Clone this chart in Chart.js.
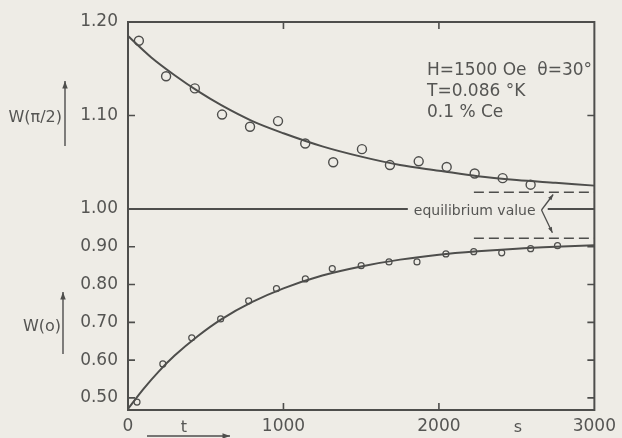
<!DOCTYPE html>
<html><head><meta charset="utf-8">
<script src="https://cdn.jsdelivr.net/npm/chart.js@4.4.1/dist/chart.umd.min.js"></script>
<style>html,body{margin:0;padding:0;background:#eeece6;}#wrap{width:622px;height:438px;}</style>
</head><body><div id="wrap"><canvas id="c" width="622" height="438"></canvas></div>
<script>
// ---- data ----
const upperT = [70,245,430,605,785,965,1140,1320,1505,1685,1870,2050,2230,2410,2590];
const upperW = [1.180,1.142,1.129,1.101,1.088,1.094,1.070,1.050,1.064,1.047,1.051,1.045,1.038,1.033,1.026];
const upperCurveT = [0,150,300,450,600,800,1000,1250,1500,1750,2000,2250,2500,2750,3000];
const upperCurveW = [1.185,1.162,1.143,1.126,1.111,1.094,1.081,1.067,1.056,1.047,1.041,1.035,1.031,1.028,1.025];
const lowerT = [58,224,410,596,776,955,1141,1314,1500,1679,1859,2045,2224,2404,2590,2763];
const lowerW = [0.489,0.590,0.659,0.709,0.757,0.789,0.815,0.842,0.850,0.860,0.860,0.881,0.887,0.884,0.895,0.903];
const lowerCurveT = [0,100,200,300,450,600,800,1000,1250,1500,1750,2000,2250,2500,2750,3000];
const lowerCurveW = [0.471,0.524,0.571,0.612,0.664,0.708,0.754,0.790,0.824,0.848,0.866,0.879,0.888,0.895,0.900,0.904];
const xTicks = [0,1000,2000,3000];
const upperTicks = [1.00,1.10,1.20];
const lowerTicks = [0.50,0.60,0.70,0.80,0.90];
const unityValue = 1.00;
const unityLeftT = [0,1800];
const unityRightT = [2700,3000];
const eqT = [2225,3000];
const eqUpper = 1.018;
const eqLower = 0.9225;
const infoLines = ["H=1500 Oe  \u03b8=30\u00b0","T=0.086 \u00b0K","0.1 % Ce"];

const BG = '#eeece6', INK = '#4e4e4c', TXT = '#555553';
const FONT = "'DejaVu Sans'";
const pts = (xs, ys) => xs.map((x,i)=>({x, y: ys[i]}));
const flat = (xs, v) => xs.map(x=>({x, y: v}));

function arrow(ctx, x1, y1, x2, y2, head){
  ctx.beginPath(); ctx.moveTo(x1,y1); ctx.lineTo(x2,y2); ctx.stroke();
  const a = Math.atan2(y2-y1, x2-x1);
  ctx.beginPath();
  ctx.moveTo(x2,y2);
  ctx.lineTo(x2 - head*Math.cos(a-0.35), y2 - head*Math.sin(a-0.35));
  ctx.lineTo(x2 - head*Math.cos(a+0.35), y2 - head*Math.sin(a+0.35));
  ctx.closePath(); ctx.fill();
}

const deco = {
  id: 'deco',
  beforeDraw(chart){
    const ctx = chart.ctx; ctx.save(); ctx.fillStyle = BG; ctx.fillRect(0,0,chart.width,chart.height); ctx.restore();
  },
  afterDraw(chart){
    const {ctx, chartArea:a, scales:{x, yU, yL}} = chart;
    ctx.save();
    ctx.strokeStyle = INK; ctx.fillStyle = INK;
    ctx.lineWidth = 2;
    ctx.strokeRect(a.left, a.top, a.right-a.left, a.bottom-a.top);
    // inner tick marks
    const TL = 7;
    ctx.lineWidth = 1.6;
    ctx.beginPath();
    xTicks.slice(1,-1).forEach(v=>{
      const px = x.getPixelForValue(v);
      ctx.moveTo(px, a.bottom); ctx.lineTo(px, a.bottom-TL);
      ctx.moveTo(px, a.top); ctx.lineTo(px, a.top+TL);
    });
    const yt = upperTicks.slice(1,-1).map(v=>yU.getPixelForValue(v)).concat(lowerTicks.map(v=>yL.getPixelForValue(v)));
    yt.forEach(py=>{
      ctx.moveTo(a.left, py); ctx.lineTo(a.left+TL, py);
      ctx.moveTo(a.right, py); ctx.lineTo(a.right-TL, py);
    });
    ctx.stroke();

    // info text
    ctx.fillStyle = TXT;
    ctx.font = "17px " + FONT;
    ctx.textAlign = 'left'; ctx.textBaseline = 'alphabetic';
    infoLines.forEach((s,i)=>ctx.fillText(s, 427, 75 + i*21));

    // equilibrium label and bracket arrows
    const ux = x.getPixelForValue(unityLeftT[1]);
    const uy = yU.getPixelForValue(unityValue);
    ctx.font = "14px " + FONT;
    ctx.textAlign = 'left'; ctx.textBaseline = 'middle';
    ctx.fillText("equilibrium value", ux + 6, uy + 2);
    ctx.fillStyle = INK; ctx.lineWidth = 1.3;
    const vx = x.getPixelForValue(2660);
    arrow(ctx, vx, uy+1, x.getPixelForValue(2735), yU.getPixelForValue(1.0155), 6);
    arrow(ctx, vx, uy+1, x.getPixelForValue(2730), yL.getPixelForValue(0.937), 6);

    // axis titles
    ctx.fillStyle = TXT;
    ctx.font = "16px " + FONT;
    ctx.textAlign = 'right'; ctx.textBaseline = 'alphabetic';
    ctx.fillText("W(\u03c0/2)", 62, 122);
    ctx.fillText("W(o)", 61, 331);
    ctx.fillStyle = INK; ctx.lineWidth = 1.4;
    arrow(ctx, 65, 146, 65, 81, 8);
    arrow(ctx, 63, 354, 63, 292, 8);
    ctx.fillStyle = TXT;
    ctx.textAlign = 'center';
    ctx.font = "16px " + FONT;
    ctx.fillText("t", 184, 432);
    ctx.fillText("s", 518, 432);
    ctx.fillStyle = INK;
    arrow(ctx, 147, 436, 230, 436, 8);
    ctx.restore();
  }
};

const lineDs = (data, axis, extra) => Object.assign({data, yAxisID: axis, showLine: true, pointRadius: 0,
  borderColor: INK, borderWidth: 2, fill: false, clip: 4}, extra || {});

new Chart(document.getElementById('c'), {
  type: 'scatter',
  data: { datasets: [
    lineDs(pts(upperCurveT, upperCurveW), 'yU', {cubicInterpolationMode: 'monotone'}),
    lineDs(pts(lowerCurveT, lowerCurveW), 'yL', {cubicInterpolationMode: 'monotone'}),
    lineDs(flat(unityLeftT, unityValue), 'yU', {borderWidth: 2}),
    lineDs(flat(unityRightT, unityValue), 'yU', {borderWidth: 2}),
    lineDs(flat(eqT, eqUpper), 'yU', {borderWidth: 1.5, borderDash: [10,5]}),
    lineDs(flat(eqT, eqLower), 'yL', {borderWidth: 1.5, borderDash: [10,5]}),
    {data: pts(upperT, upperW), yAxisID: 'yU', showLine: false, pointRadius: 4.5, pointBorderWidth: 1.4,
      borderColor: INK, backgroundColor: BG},
    {data: pts(lowerT, lowerW), yAxisID: 'yL', showLine: false, pointRadius: 3, pointBorderWidth: 1.2,
      borderColor: INK, backgroundColor: BG}
  ]},
  options: {
    responsive: false, animation: false, events: [],
    layout: {padding: {left: 0, top: 22, right: 23, bottom: 0}},
    plugins: {legend: {display: false}, tooltip: {enabled: false}},
    scales: {
      x: {type: 'linear', position: 'bottom', min: 0, max: 3000,
        afterBuildTicks: s => { s.ticks = xTicks.map(v=>({value: v})); },
        afterFit: s => { s.height = 28; },
        grid: {display: false, drawTicks: false}, border: {display: false},
        ticks: {color: TXT, font: {family: FONT, size: 17}, padding: 6, maxRotation: 0, autoSkip: false,
          callback: v => String(v)}},
      yL: {type: 'linear', position: 'left', stack: 'w', stackWeight: 201, min: 0.468, max: 1.00,
        afterBuildTicks: s => { s.ticks = lowerTicks.map(v=>({value: v})); },
        afterFit: s => { s.width = 128; },
        grid: {display: false, drawTicks: false}, border: {display: false},
        ticks: {color: TXT, font: {family: FONT, size: 17}, padding: 10, autoSkip: false,
          callback: v => v.toFixed(2)}},
      yU: {type: 'linear', position: 'left', stack: 'w', stackWeight: 187, min: 1.00, max: 1.20,
        afterBuildTicks: s => { s.ticks = upperTicks.map(v=>({value: v})); },
        afterFit: s => { s.width = 128; },
        grid: {display: false, drawTicks: false}, border: {display: false},
        ticks: {color: TXT, font: {family: FONT, size: 17}, padding: 10, autoSkip: false,
          callback: v => v.toFixed(2)}}
    }
  },
  plugins: [deco]
});
</script></body></html>
